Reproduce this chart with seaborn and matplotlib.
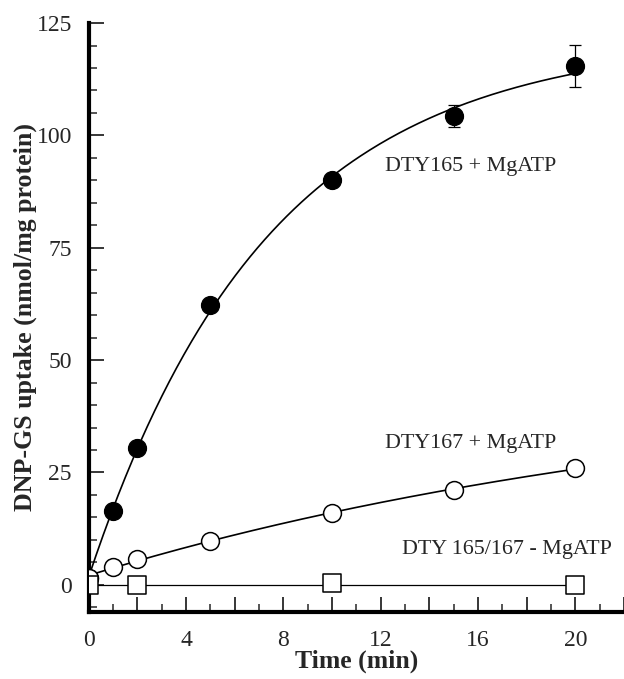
import numpy as np
import pandas as pd
import matplotlib
matplotlib.use("Agg")
import matplotlib.pyplot as plt
import seaborn as sns
from matplotlib.ticker import MultipleLocator, FuncFormatter

# ---- data ----
time_165 = [0, 1, 2, 5, 10, 15, 20]
uptake_165 = [1.5, 16.5, 30.5, 62.3, 90.0, 104.3, 115.4]
err_165 = [0, 0, 0, 0, 0, 2.4, 4.7]

time_167 = [0, 1, 2, 5, 10, 15, 20]
uptake_167 = [1.5, 4.0, 5.8, 9.8, 16.0, 21.0, 26.0]

time_ctrl = [0, 2, 10, 20]
uptake_ctrl = [0.0, 0.0, 0.3, 0.0]

labels = ["DTY165 + MgATP", "DTY167 + MgATP", "DTY 165/167 - MgATP"]

sns.set_theme(style="white")
plt.rcParams['font.family'] = ['Liberation Serif', 'DejaVu Serif']

fig = plt.figure(figsize=(6.24, 6.79), dpi=100)
ax = fig.add_axes([0.142, 0.099, 0.858, 0.867])


def fit_exp(t, y):
    t = np.asarray(t, float); y = np.asarray(y, float)
    best = None
    for k in np.linspace(0.001, 1.0, 2000):
        X = np.column_stack([1 - np.exp(-k * t), np.ones_like(t)])
        coef, *_ = np.linalg.lstsq(X, y, rcond=None)
        r = np.sum((X @ coef - y) ** 2)
        if best is None or r < best[0]:
            best = (r, k, coef)
    _, k, (A, c) = best
    tt = np.linspace(0, max(t), 200)
    return tt, A * (1 - np.exp(-k * tt)) + c


t1, f1 = fit_exp(time_165, uptake_165)
t2, f2 = fit_exp(time_167, uptake_167)
sns.lineplot(x=t1, y=f1, ax=ax, color="black", lw=1.2)
sns.lineplot(x=t2, y=f2, ax=ax, color="black", lw=1.2)
sns.lineplot(x=time_ctrl, y=[0]*len(time_ctrl), ax=ax, color="black", lw=0.9)

ax.errorbar(time_165, uptake_165, yerr=err_165, fmt="none", ecolor="black",
            elinewidth=0.9, capsize=4, capthick=0.9, zorder=2)
sns.scatterplot(x=time_165, y=uptake_165, ax=ax, marker="o", s=165,
                color="black", edgecolor="black", linewidth=1, zorder=3)
sns.scatterplot(x=time_167, y=uptake_167, ax=ax, marker="o", s=165,
                color="white", edgecolor="black", linewidth=1.1, zorder=4)
sns.scatterplot(x=time_ctrl, y=uptake_ctrl, ax=ax, marker="s", s=175,
                color="white", edgecolor="black", linewidth=1.1, zorder=5)

ax.text(15.7, 93, labels[0], ha="center", va="center", fontsize=15.8)
ax.text(15.7, 31.5, labels[1], ha="center", va="center", fontsize=15.8)
ax.text(17.2, 7.8, labels[2], ha="center", va="center", fontsize=15.8)

ax.set_xlim(0, 22)
ax.set_ylim(-6, 125)
ax.xaxis.set_major_locator(MultipleLocator(2))
ax.xaxis.set_minor_locator(MultipleLocator(1))
ax.xaxis.set_major_formatter(FuncFormatter(
    lambda v, p: f"{int(round(v))}" if int(round(v)) % 4 == 0 else ""))
ax.yaxis.set_major_locator(MultipleLocator(25))
ax.yaxis.set_minor_locator(MultipleLocator(5))
ax.tick_params(axis="both", which="major", direction="in", length=11, width=1.3,
               labelsize=17, pad=12)
ax.tick_params(axis="x", which="major", pad=13)
ax.tick_params(axis="both", which="minor", direction="in", length=6, width=1.1)
ax.tick_params(axis="x", which="both", bottom=True)
ax.tick_params(axis="y", which="both", left=True)

for s in ["top", "right"]:
    ax.spines[s].set_visible(False)
for s in ["left", "bottom"]:
    ax.spines[s].set_linewidth(3)
    ax.spines[s].set_color("black")

ax.set_xlabel("Time (min)", fontsize=18.5, fontweight="bold", labelpad=-1)
ax.set_ylabel("DNP-GS uptake (nmol/mg protein)", fontsize=18.6, fontweight="bold", labelpad=0)

fig.savefig("out.png", dpi=100)
